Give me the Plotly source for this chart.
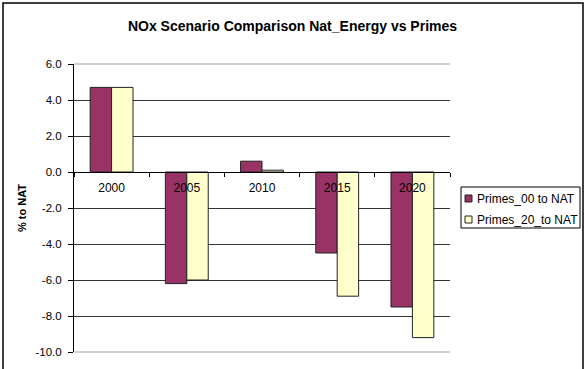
import plotly.graph_objects as go

years = ["2000", "2005", "2010", "2015", "2020"]
primes_00 = [4.7, -6.2, 0.6, -4.5, -7.5]
primes_20 = [4.7, -6.0, 0.1, -6.9, -9.2]
series_names = ["Primes_00 to NAT", "Primes_20_to NAT"]
series_colors = ["#993366", "#FFFFCC"]
y_ticks = [6, 4, 2, 0, -2, -4, -6, -8, -10]
y_tick_text = ["%.1f" % v for v in y_ticks]

FONT = "Liberation Sans, Arial, sans-serif"
Y_MIN, Y_MAX = -10, 6

# plot-area geometry in pixels
W, H = 585, 369
L, R, T, B = 74, 135, 64, 17
PW, PH = W - L - R, H - T - B


def px(x):
    return (x - L) / PW


def py(y):
    return (H - B - y) / PH


fig = go.Figure()
for name, vals, col in zip(series_names, [primes_00, primes_20], series_colors):
    fig.add_bar(x=years, y=vals, name=name, showlegend=False,
                marker=dict(color=col, line=dict(color="#222222", width=1)))

# category axis sits on the zero line
zero_pos = (0 - Y_MIN) / (Y_MAX - Y_MIN)

fig.update_layout(
    width=W, height=H,
    margin=dict(l=L, r=R, t=T, b=B, autoexpand=False),
    paper_bgcolor="white", plot_bgcolor="white",
    font=dict(family=FONT, size=11, color="black"),
    barmode="group", bargap=0.43, bargroupgap=0,
    title=dict(text="<b>NOx Scenario Comparison Nat_Energy vs Primes</b>",
               x=0.5, xanchor="center", y=1 - 26 / H, yanchor="middle",
               font=dict(size=14, family=FONT)),
    xaxis=dict(anchor="free", position=zero_pos, showline=True,
               linecolor="black", linewidth=1, ticks="outside",
               tickson="boundaries", ticklen=4, tickcolor="black",
               showgrid=False, tickfont=dict(size=12),
               ticklabelstandoff=5),
    yaxis=dict(range=[Y_MIN, Y_MAX], tickvals=y_ticks, ticktext=y_tick_text,
               showline=True, linecolor="black", linewidth=1,
               ticks="outside", ticklen=5, tickcolor="black",
               showgrid=True, gridcolor="#333333", gridwidth=1,
               zeroline=False, tickfont=dict(size=11.5),
               ticklabelstandoff=4),
    showlegend=False,
)

# light grey plot-area frame on top and bottom
for yd in (0, 1):
    fig.add_shape(type="line", xref="x domain", yref="y domain",
                  x0=0, x1=1, y0=yd, y1=yd,
                  line=dict(color="#C0C0C0", width=1.5))

# outer chart border
fig.add_shape(type="rect", xref="paper", yref="paper",
              x0=px(3), x1=px(583), y0=py(380), y1=py(3),
              line=dict(color="black", width=1.5), layer="below")

# legend box with small square swatches
fig.add_shape(type="rect", xref="paper", yref="paper",
              x0=px(461), x1=px(580), y0=py(228), y1=py(187),
              line=dict(color="black", width=1), fillcolor="white")
for i, (name, col) in enumerate(zip(series_names, series_colors)):
    cy = 198.5 + i * 21
    fig.add_shape(type="rect", xref="paper", yref="paper",
                  x0=px(465), x1=px(472), y0=py(cy + 3.5), y1=py(cy - 3.5),
                  line=dict(color="#222222", width=1), fillcolor=col)
    fig.add_annotation(text=name, xref="paper", yref="paper",
                       x=px(475), y=py(cy), xanchor="left", yanchor="middle",
                       showarrow=False, font=dict(size=12, family=FONT))

fig.add_annotation(text="<b>% to NAT</b>", xref="paper", yref="paper",
                   x=px(22), y=py(208), xanchor="center", yanchor="middle",
                   textangle=-90, showarrow=False,
                   font=dict(size=11, family=FONT))

fig.write_html("out.html")
